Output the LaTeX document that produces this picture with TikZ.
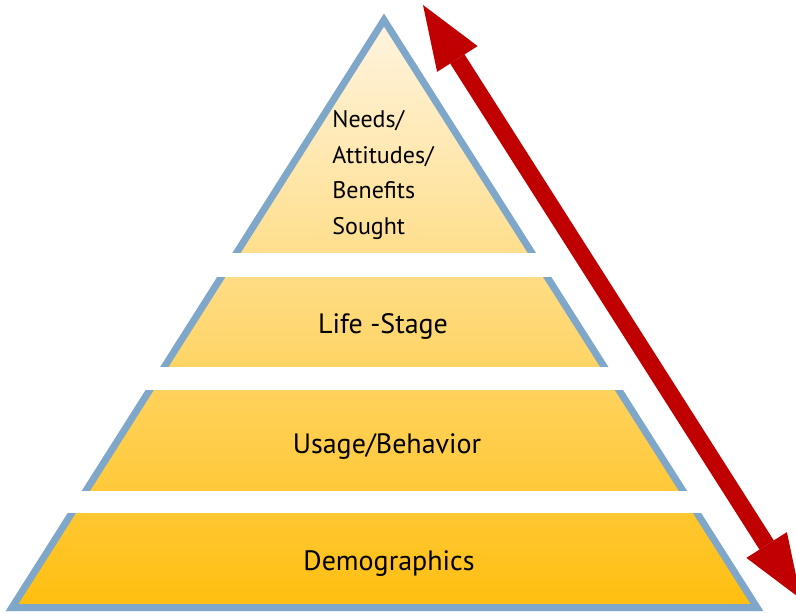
\documentclass[tikz,border=0pt]{standalone}
\usepackage{fontspec}
\setmainfont{PT Sans}
\usetikzlibrary{arrows.meta}
\definecolor{edge}{RGB}{127,167,201}
\definecolor{ptop}{RGB}{255,244,224}
\definecolor{pbot}{RGB}{255,190,15}
\definecolor{arr}{RGB}{192,0,0}

\begin{document}
\begin{tikzpicture}[x=1pt,y=-1pt,
  lvl/.style={font=\fontsize{28}{35}\selectfont,align=left,inner sep=0pt},
  gap/.style={fill=white},
  bigtip/.tip={Triangle[length=64pt,width=48pt,line width=0pt]}]
\useasboundingbox (0,0) rectangle (796,613);
% pyramid, then the white cuts between the levels
\shade[top color=ptop,bottom color=pbot,draw=edge,line width=7pt]
  (384,20) -- (757,607.5) -- (12,607.5) -- cycle;
\foreach \a/\b in {253/277,367/390,491/513}
  \fill[gap] (-1,\a) rectangle (797,\b);
\node[lvl,font=\fontsize{24}{35.5}\selectfont] (needs) at (383,175) {Needs/\\Attitudes/\\Benefits\\Sought};
\node[lvl,anchor=base] (life) at (383,333) {Life -Stage};
\node[lvl,anchor=base] (usage) at (387,453) {Usage/Behavior};
\node[lvl,anchor=base] (demo) at (389,570) {Demographics};
% double arrow along the right side
\coordinate (hi) at (423,5);
\coordinate (lo) at (801,599);
\draw[arr,line width=17pt,bigtip-bigtip] (hi) -- (lo);
\end{tikzpicture}
\end{document}
